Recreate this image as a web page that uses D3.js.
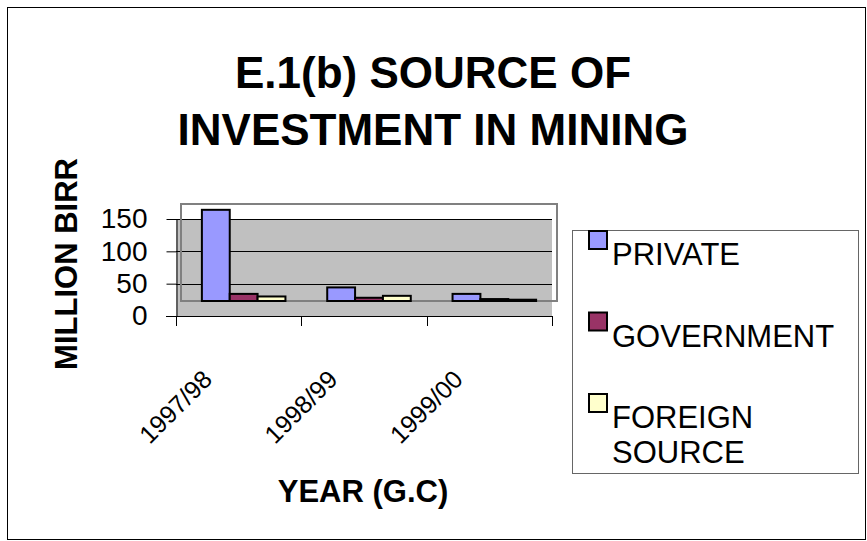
<!doctype html>
<html>
  <head>
    <meta charset="utf-8">
    <title>E.1(b) Source of investment in mining</title>
    <script src="https://cdnjs.cloudflare.com/ajax/libs/d3/7.8.5/d3.min.js"></script>
    <style>
      body { margin: 0; background: #fff; }
      svg { display: block; font-family: "Liberation Sans", Arial, sans-serif; }
    </style>
  </head>
  <body>
    <div id="chart"></div>
    <script>
      // data (million birr)
      const categories = ['1997/98', '1998/99', '1999/00'];
      const seriesNames = ['PRIVATE', 'GOVERNMENT', 'FOREIGN SOURCE'];
      const privateVals = [141, 21, 11];
      const governmentVals = [11, 5, 3];
      const foreignVals = [7, 8, 2];
      const yTicks = [0, 50, 100, 150];

      const colors = ['#9999FF', '#993366', '#FFFFCC'];
      const series = [privateVals, governmentVals, foreignVals];

      const width = 867, height = 541;
      // excel-ish 3d depth shift for the bars
      const depthX = 5, depthY = -15;

      const svg = d3.select('#chart')
        .append('svg')
        .attr('width', width)
        .attr('height', height);

      // outer border
      svg.append('rect')
        .attr('x', 7.5).attr('y', 7.5)
        .attr('width', 858).attr('height', 532)
        .attr('fill', 'none').attr('stroke', '#000').attr('stroke-width', 1);

      // scales
      const x = d3.scaleBand().domain(categories).range([176, 552]).padding(0);
      const xs = d3.scaleBand().domain(seriesNames).range([0, x.bandwidth()])
        .paddingInner(0).paddingOuter(0.75);
      const y = d3.scaleLinear().domain([0, 150]).range([316, 219]);

      // gray back wall
      svg.append('rect')
        .attr('x', x.range()[0]).attr('y', y(150))
        .attr('width', x.range()[1] - x.range()[0])
        .attr('height', y(0) - y(150))
        .attr('fill', '#C0C0C0');

      // gridlines
      svg.append('g')
        .selectAll('line')
        .data(yTicks.filter(d => d > 0))
        .join('line')
        .attr('x1', x.range()[0]).attr('x2', x.range()[1])
        .attr('y1', d => Math.round(y(d)) + 0.5).attr('y2', d => Math.round(y(d)) + 0.5)
        .attr('stroke', '#000');

      // plot frame (shifted)
      svg.append('rect')
        .attr('x', x.range()[0] + depthX).attr('y', y(150) + depthY)
        .attr('width', x.range()[1] - x.range()[0])
        .attr('height', y(0) - y(150))
        .attr('fill', 'none').attr('stroke', '#808080').attr('stroke-width', 2);

      // y axis
      const yAxis = svg.append('g')
        .attr('transform', `translate(${x.range()[0] + 0.5},0)`)
        .call(d3.axisLeft(y).tickValues(yTicks).tickSize(10).tickSizeOuter(0).tickPadding(19));
      yAxis.selectAll('text')
        .attr('font-size', 28).attr('font-family', 'Liberation Sans, Arial, sans-serif')
        .attr('fill', '#000');
      yAxis.selectAll('line').attr('stroke', '#000');
      yAxis.select('.domain').attr('stroke', '#000');

      // x axis
      const xAxis = svg.append('g');
      const xTickPos = categories.map(c => x(c)).concat([x.range()[1]]);
      xAxis.append('line')
        .attr('x1', 166).attr('x2', x.range()[1])
        .attr('y1', Math.round(y(0)) + 0.5).attr('y2', Math.round(y(0)) + 0.5)
        .attr('stroke', '#000');
      xAxis.selectAll('.tick')
        .data(xTickPos)
        .join('line')
        .attr('class', 'tick')
        .attr('x1', d => Math.round(d) + 0.5).attr('x2', d => Math.round(d) + 0.5)
        .attr('y1', y(0)).attr('y2', y(0) + 10)
        .attr('stroke', '#000');
      xAxis.selectAll('text')
        .data(categories)
        .join('text')
        .attr('transform', d => `translate(${x(d) + x.bandwidth() / 2 - 25},${y(0) + 65}) rotate(-45)`)
        .attr('text-anchor', 'end')
        .attr('font-size', 25)
        .text(d => d);

      // bars
      const barsG = svg.append('g').attr('transform', `translate(${depthX},${depthY})`);
      const groups = barsG.selectAll('g')
        .data(categories)
        .join('g')
        .attr('transform', d => `translate(${x(d)},0)`);
      groups.selectAll('rect')
        .data((c, ci) => series.map((s, si) => ({ name: seriesNames[si], value: s[ci], i: si })))
        .join('rect')
        .attr('x', d => xs(d.name))
        .attr('y', d => y(d.value))
        .attr('width', xs.bandwidth())
        .attr('height', d => y(0) - y(d.value))
        .attr('fill', d => colors[d.i])
        .attr('stroke', '#000')
        .attr('stroke-width', 2);

      // title
      svg.append('text')
        .attr('x', 433).attr('y', 88)
        .attr('text-anchor', 'middle')
        .attr('font-size', 44).attr('font-weight', 'bold')
        .text('E.1(b) SOURCE OF');
      svg.append('text')
        .attr('x', 433).attr('y', 145)
        .attr('text-anchor', 'middle')
        .attr('font-size', 44).attr('font-weight', 'bold')
        .text('INVESTMENT IN MINING');

      // axis titles
      svg.append('text')
        .attr('transform', 'translate(77,264) rotate(-90)')
        .attr('text-anchor', 'middle')
        .attr('font-size', 31).attr('font-weight', 'bold')
        .text('MILLION BIRR');
      svg.append('text')
        .attr('x', 363).attr('y', 502)
        .attr('text-anchor', 'middle')
        .attr('font-size', 31).attr('font-weight', 'bold')
        .text('YEAR (G.C)');

      // legend
      const legend = svg.append('g');
      legend.append('rect')
        .attr('x', 572.5).attr('y', 230.5)
        .attr('width', 286).attr('height', 243)
        .attr('fill', 'none').attr('stroke', '#666').attr('stroke-width', 1);
      const items = legend.selectAll('g')
        .data(seriesNames)
        .join('g')
        .attr('transform', (d, i) => `translate(0,${i * 81.5})`);
      items.append('rect')
        .attr('x', 589).attr('y', 231)
        .attr('width', 18).attr('height', 18)
        .attr('fill', (d, i) => colors[i])
        .attr('stroke', '#000').attr('stroke-width', 2);
      items.append('text')
        .attr('x', 612).attr('y', 265)
        .attr('font-size', 31)
        .selectAll('tspan')
        .data(d => d === 'FOREIGN SOURCE' ? ['FOREIGN', 'SOURCE'] : [d])
        .join('tspan')
        .attr('x', 612)
        .attr('dy', (d, i) => i === 0 ? 0 : 35)
        .text(d => d);
    </script>
  </body>
</html>
